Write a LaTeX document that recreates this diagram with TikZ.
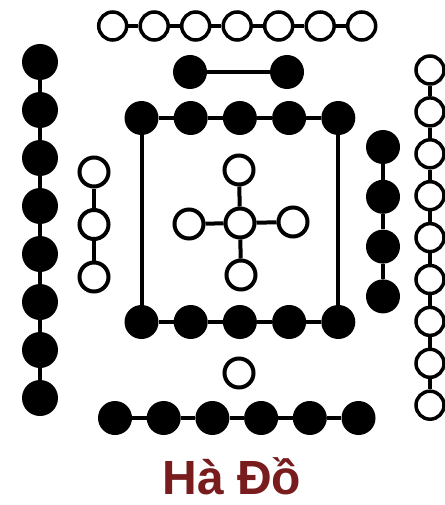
\documentclass[tikz,border=0pt]{standalone}
\usepackage{fontspec}
\setmainfont{Liberation Sans}
\definecolor{titlered}{RGB}{120,28,30}
\begin{document}
\begin{tikzpicture}[x=1pt,y=-1pt,
  blk/.style={circle,fill=black,draw=none,inner sep=0pt,minimum size=34pt},
  blkl/.style={blk,minimum size=36pt},
  wht/.style={circle,fill=white,draw=black,line width=4pt,inner sep=0pt,minimum size=29pt},
  whts/.style={wht,line width=3.5pt,minimum size=28pt},
  conn/.style={draw=black,line width=4pt}]
\useasboundingbox (0,0) rectangle (444,505);
% top white row (7)
\foreach \i in {1,...,7} \node[whts] (t\i) at ({112.7+41.5*(\i-1)},26) {};
\foreach \i [evaluate=\i as \j using int(\i+1)] in {1,...,6} \draw[conn] (t\i) -- (t\j);
% black pair (2)
\node[blk] (p1) at (190,72) {};
\node[blk] (p2) at (287,72) {};
\draw[conn] (p1) -- (p2);
% frame rows (5 + 5)
\foreach \i in {1,...,5} {
  \node[blk] (a\i) at ({141.5+49.2*(\i-1)},118) {};
  \node[blk] (b\i) at ({141.5+49.2*(\i-1)},322) {};
}
\foreach \i [evaluate=\i as \j using int(\i+1)] in {1,...,4} {
  \draw[conn] (a\i) -- (a\j);
  \draw[conn] (b\i) -- (b\j);
}
\draw[conn] (a1) -- (b1);
\draw[conn] (a5) -- (b5);
% centre cross (5)
\node[wht] (c0) at (240,223) {};
\node[wht] (cN) at (239,170) {};
\node[wht] (cS) at (241,275) {};
\node[wht] (cW) at (189,224) {};
\node[wht] (cE) at (293,222) {};
\foreach \k in {cN,cS,cW,cE} \draw[conn] (c0) -- (\k);
% single white (1)
\node[wht] (s1) at (239,373) {};
% bottom black row (6)
\foreach \i in {1,...,6} \node[blk] (d\i) at ({115+48.7*(\i-1)},418) {};
\foreach \i [evaluate=\i as \j using int(\i+1)] in {1,...,5} \draw[conn] (d\i) -- (d\j);
% left black column (8)
\foreach \i in {1,...,8} \node[blkl] (L\i) at (40,{62+48*(\i-1)}) {};
\foreach \i [evaluate=\i as \j using int(\i+1)] in {1,...,7} \draw[conn] (L\i) -- (L\j);
% left white column (3)
\foreach \i in {1,...,3} \node[wht] (w\i) at (94,{172+52.5*(\i-1)}) {};
\foreach \i [evaluate=\i as \j using int(\i+1)] in {1,2} \draw[conn] (w\i) -- (w\j);
% right black column (4)
\foreach \i in {1,...,4} \node[blk] (r\i) at (383,{147+49.8*(\i-1)}) {};
\foreach \i [evaluate=\i as \j using int(\i+1)] in {1,...,3} \draw[conn] (r\i) -- (r\j);
% right white column (9)
\foreach \i in {1,...,9} \node[whts] (R\i) at (430,{70+41.9*(\i-1)}) {};
\foreach \i [evaluate=\i as \j using int(\i+1)] in {1,...,8} \draw[conn] (R\i) -- (R\j);
% title
\node[anchor=base,text=titlered,font=\bfseries\fontsize{48}{52}\selectfont,inner sep=0pt,text depth=0pt] (title) at (232,494) {Hà Đồ};
\end{tikzpicture}
\end{document}
